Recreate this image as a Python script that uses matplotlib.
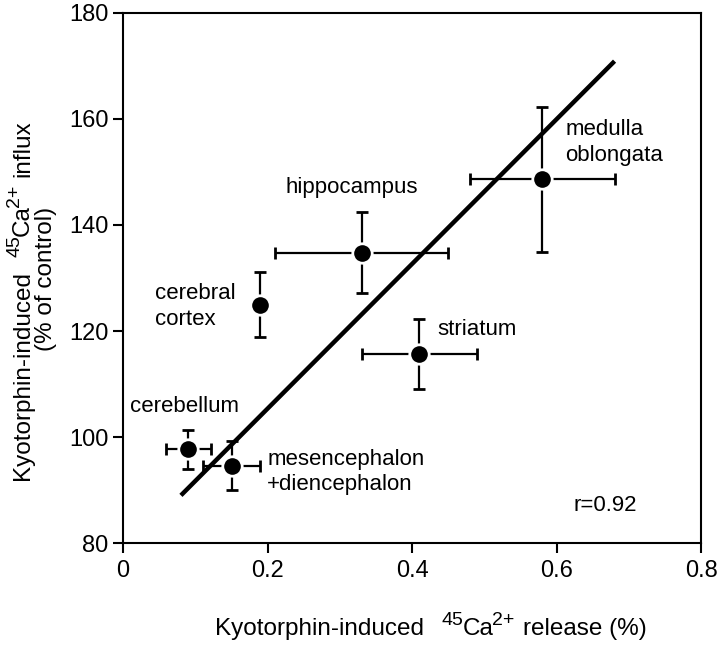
import numpy as np
import matplotlib
matplotlib.use('Agg')
import matplotlib.pyplot as plt

plt.rcParams['font.family'] = ['Liberation Sans', 'DejaVu Sans']

# regions: release (%) vs influx (% of control)
regions = ['cerebral\ncortex', 'hippocampus', 'medulla\noblongata',
           'striatum', 'cerebellum', 'mesencephalon\n+diencephalon']
release = [0.19, 0.33, 0.58, 0.41, 0.09, 0.15]
release_err = [0.0, 0.12, 0.10, 0.08, 0.031, 0.04]
influx = [125.0, 134.8, 148.6, 115.7, 97.7, 94.6]
influx_err = [6.2, 7.7, 13.7, 6.6, 3.7, 4.6]

# label anchor positions (data coords), left aligned
label_x = [0.044, 0.224, 0.612, 0.435, 0.009, 0.1995]
label_y = [124.6, 147.0, 155.6, 120.2, 105.8, 93.4]

# regression line endpoints
line_x = [0.08, 0.68]
line_y = [89.0, 170.9]

W, H = 720, 645
fig = plt.figure(figsize=(W / 100, H / 100), dpi=100)
ax = fig.add_axes([0.171, 0.158, 0.803, 0.822])

ax.plot(line_x, line_y, color='black', lw=3.2, solid_capstyle='butt', zorder=2)
ax.errorbar(release, influx, xerr=release_err, yerr=influx_err, fmt='o',
            color='black', ms=14, mec='white', mew=2, ecolor='black',
            elinewidth=1.6, capsize=4.5, capthick=1.6, zorder=3)

for name, lx, ly in zip(regions, label_x, label_y):
    ax.text(lx, ly, name, fontsize=16, ha='left', va='center', linespacing=1.3)

ax.text(0.623, 87, 'r=0.92', fontsize=16, ha='left', va='center')

ax.set_xlim(0, 0.8)
ax.set_ylim(80, 180)
ax.set_xticks(np.arange(0, 0.81, 0.2))
ax.set_xticklabels(['0', '0.2', '0.4', '0.6', '0.8'])
ax.set_yticks(np.arange(80, 181, 20))
ax.tick_params(direction='out', length=7, width=1.5, labelsize=17,
               top=False, right=False)
ax.tick_params(axis='x', pad=5)
ax.tick_params(axis='y', pad=3.5)
for s in ax.spines.values():
    s.set_linewidth(1.5)

# axis labels with large superscripts, built piece by piece
renderer = fig.canvas.get_renderer()


def text_width(s, fs):
    t = fig.text(0, 0, s, fontsize=fs)
    w = t.get_window_extent(renderer).width
    t.remove()
    return w


def piecewise(pieces, x0, y0, vertical=False):
    # pieces: (text, fontsize, raise_px, gap_after_px); positions in pixels
    pos = y0 if vertical else x0
    for s, fs, rise, gap in pieces:
        if vertical:
            fig.text((x0 - rise) / W, pos / H, s, fontsize=fs, rotation=90,
                     rotation_mode='anchor', ha='left', va='baseline')
        else:
            fig.text(pos / W, (y0 + rise) / H, s, fontsize=fs,
                     ha='left', va='baseline')
        pos += text_width(s, fs) + gap


big, small, rise = 17.5, 14, 10
piecewise([('Kyotorphin-induced', big, 0, 18), ('45', small, rise, -1),
           ('Ca', big, 0, -2), ('2+', small, rise, 9),
           ('release (%)', big, 0, 0)], 215, 10)
piecewise([('Kyotorphin-induced', big, 0, 14), ('45', small, rise, -1),
           ('Ca', big, 0, -2), ('2+', small, rise, 8),
           ('influx', big, 0, 0)], 29, H - 480, vertical=True)
fig.text(52 / W, (H - 279) / H, '(% of control)', fontsize=big, rotation=90,
         rotation_mode='anchor', ha='center', va='baseline')

fig.savefig('out.png', dpi=100)
